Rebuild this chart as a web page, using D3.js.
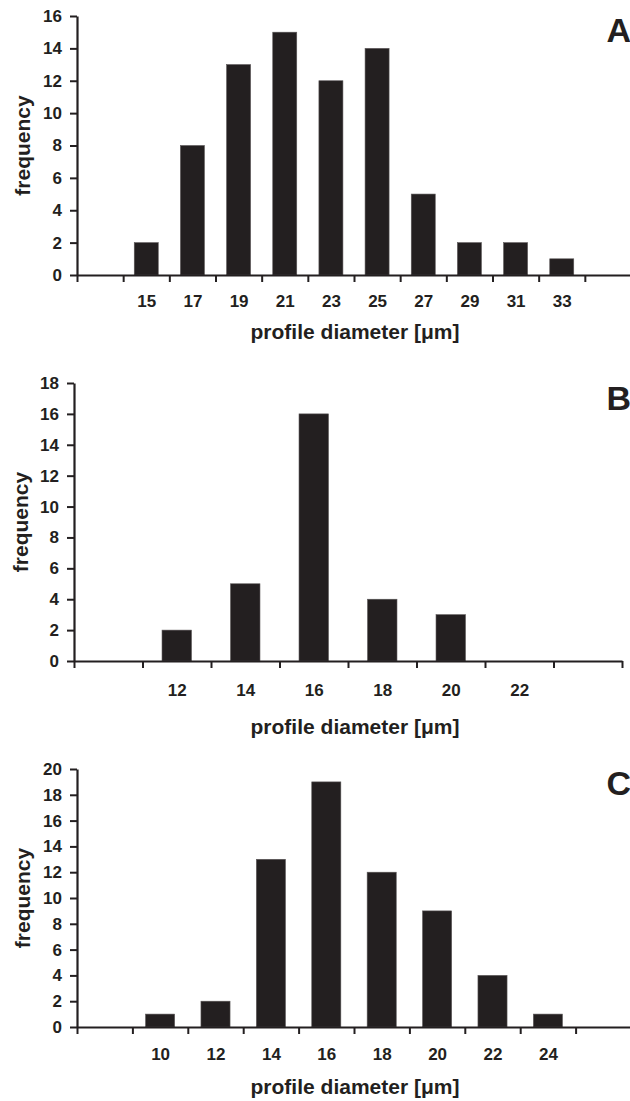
<!DOCTYPE html>
<html>
<head>
<meta charset="utf-8">
<script src="https://cdn.jsdelivr.net/npm/d3@7"></script>
<style>
  html, body { margin: 0; padding: 0; background: #fff; }
  svg { display: block; }
  text { font-family: "Liberation Sans", Arial, sans-serif; font-weight: bold; fill: #231f20; }
</style>
</head>
<body>
<svg id="chart" width="630" height="1101"></svg>
<script>
// ---- data ----
const catsA = [15, 17, 19, 21, 23, 25, 27, 29, 31, 33];
const freqA = [2, 8, 13, 15, 12, 14, 5, 2, 2, 1];
const yTicksA = [0, 2, 4, 6, 8, 10, 12, 14, 16];

const catsB = [12, 14, 16, 18, 20, 22];
const freqB = [2, 5, 16, 4, 3, 0];
const yTicksB = [0, 2, 4, 6, 8, 10, 12, 14, 16, 18];

const catsC = [10, 12, 14, 16, 18, 20, 22, 24];
const freqC = [1, 2, 13, 19, 12, 9, 4, 1];
const yTicksC = [0, 2, 4, 6, 8, 10, 12, 14, 16, 18, 20];

const panelLetters = ["A", "B", "C"];
const xTitle = "profile diameter [\u03bcm]";
const yTitle = "frequency";

// ---- layout ----
const ink = "#231f20";
const panels = [
  { cats: catsA, freq: freqA, yTicks: yTicksA, letter: panelLetters[0],
    left: 77, right: 631, top: 16, bottom: 275, barW: 1.04,
    letterY: 42, labelPad: 20, titleY: 339, freqX: 30 },
  { cats: catsB, freq: freqB, yTicks: yTicksB, letter: panelLetters[1],
    left: 74, right: 622, top: 383, bottom: 661, barW: 0.86,
    letterY: 410, labelPad: 23, titleY: 734, freqX: 28 },
  { cats: catsC, freq: freqC, yTicks: yTicksC, letter: panelLetters[2],
    left: 77, right: 631, top: 769, bottom: 1027, barW: 1.05,
    letterY: 795, labelPad: 21, titleY: 1094, freqX: 30 }
];

const svg = d3.select("#chart");

panels.forEach(p => {
  const g = svg.append("g");
  const x0 = p.cats[0] - 3, x1 = p.cats[p.cats.length - 1] + 3;
  const x = d3.scaleLinear().domain([x0, x1]).range([p.left, p.right]);
  const yMax = p.yTicks[p.yTicks.length - 1];
  const y = d3.scaleLinear().domain([0, yMax]).range([p.bottom, p.top]);

  // bars
  g.selectAll("rect.bar")
    .data(p.cats.map((c, i) => ({ c, v: p.freq[i] })).filter(d => d.v > 0))
    .join("rect")
    .attr("class", "bar")
    .attr("x", d => x(d.c - p.barW / 2))
    .attr("width", d => x(d.c + p.barW / 2) - x(d.c - p.barW / 2))
    .attr("y", d => y(d.v))
    .attr("height", d => y(0) - y(d.v))
    .attr("fill", ink)
    .attr("stroke", "#5a5657")
    .attr("stroke-width", 0.6);

  // x boundary ticks + axis line
  const bounds = d3.range(x0, x1 + 0.001, 2);
  const xTickAxis = g.append("g")
    .attr("transform", `translate(0,${p.bottom})`)
    .call(d3.axisBottom(x).tickValues(bounds).tickSize(7).tickSizeOuter(0).tickFormat(""));
  xTickAxis.select(".domain").attr("stroke", ink).attr("stroke-width", 2.2);
  xTickAxis.selectAll(".tick line").attr("stroke", ink).attr("stroke-width", 2);

  // x category labels
  const xLab = g.append("g")
    .attr("transform", `translate(0,${p.bottom})`)
    .call(d3.axisBottom(x).tickValues(p.cats).tickSize(0).tickPadding(p.labelPad).tickFormat(d3.format("d")));
  xLab.select(".domain").remove();
  xLab.selectAll("text").attr("font-size", 17).attr("font-family", "Liberation Sans, Arial, sans-serif")
    .attr("font-weight", "bold").attr("fill", ink);

  // y axis
  const yAx = g.append("g")
    .attr("transform", `translate(${p.left},0)`)
    .call(d3.axisLeft(y).tickValues(p.yTicks).tickSize(7).tickSizeOuter(0).tickPadding(8).tickFormat(d3.format("d")));
  yAx.select(".domain").attr("stroke", ink).attr("stroke-width", 2.2);
  yAx.selectAll(".tick line").attr("stroke", ink).attr("stroke-width", 2);
  yAx.selectAll("text").attr("font-size", 17).attr("font-family", "Liberation Sans, Arial, sans-serif")
    .attr("font-weight", "bold").attr("fill", ink);

  // titles
  g.append("text")
    .attr("x", 355).attr("y", p.titleY)
    .attr("text-anchor", "middle")
    .attr("font-size", 21)
    .text(xTitle);

  g.append("text")
    .attr("transform", `translate(${p.freqX},${(p.top + p.bottom) / 2}) rotate(-90)`)
    .attr("text-anchor", "middle")
    .attr("font-size", 21)
    .text(yTitle);

  // panel letter
  g.append("text")
    .attr("x", 631).attr("y", p.letterY)
    .attr("text-anchor", "end")
    .attr("font-size", 34)
    .text(p.letter);
});
</script>
</body>
</html>
